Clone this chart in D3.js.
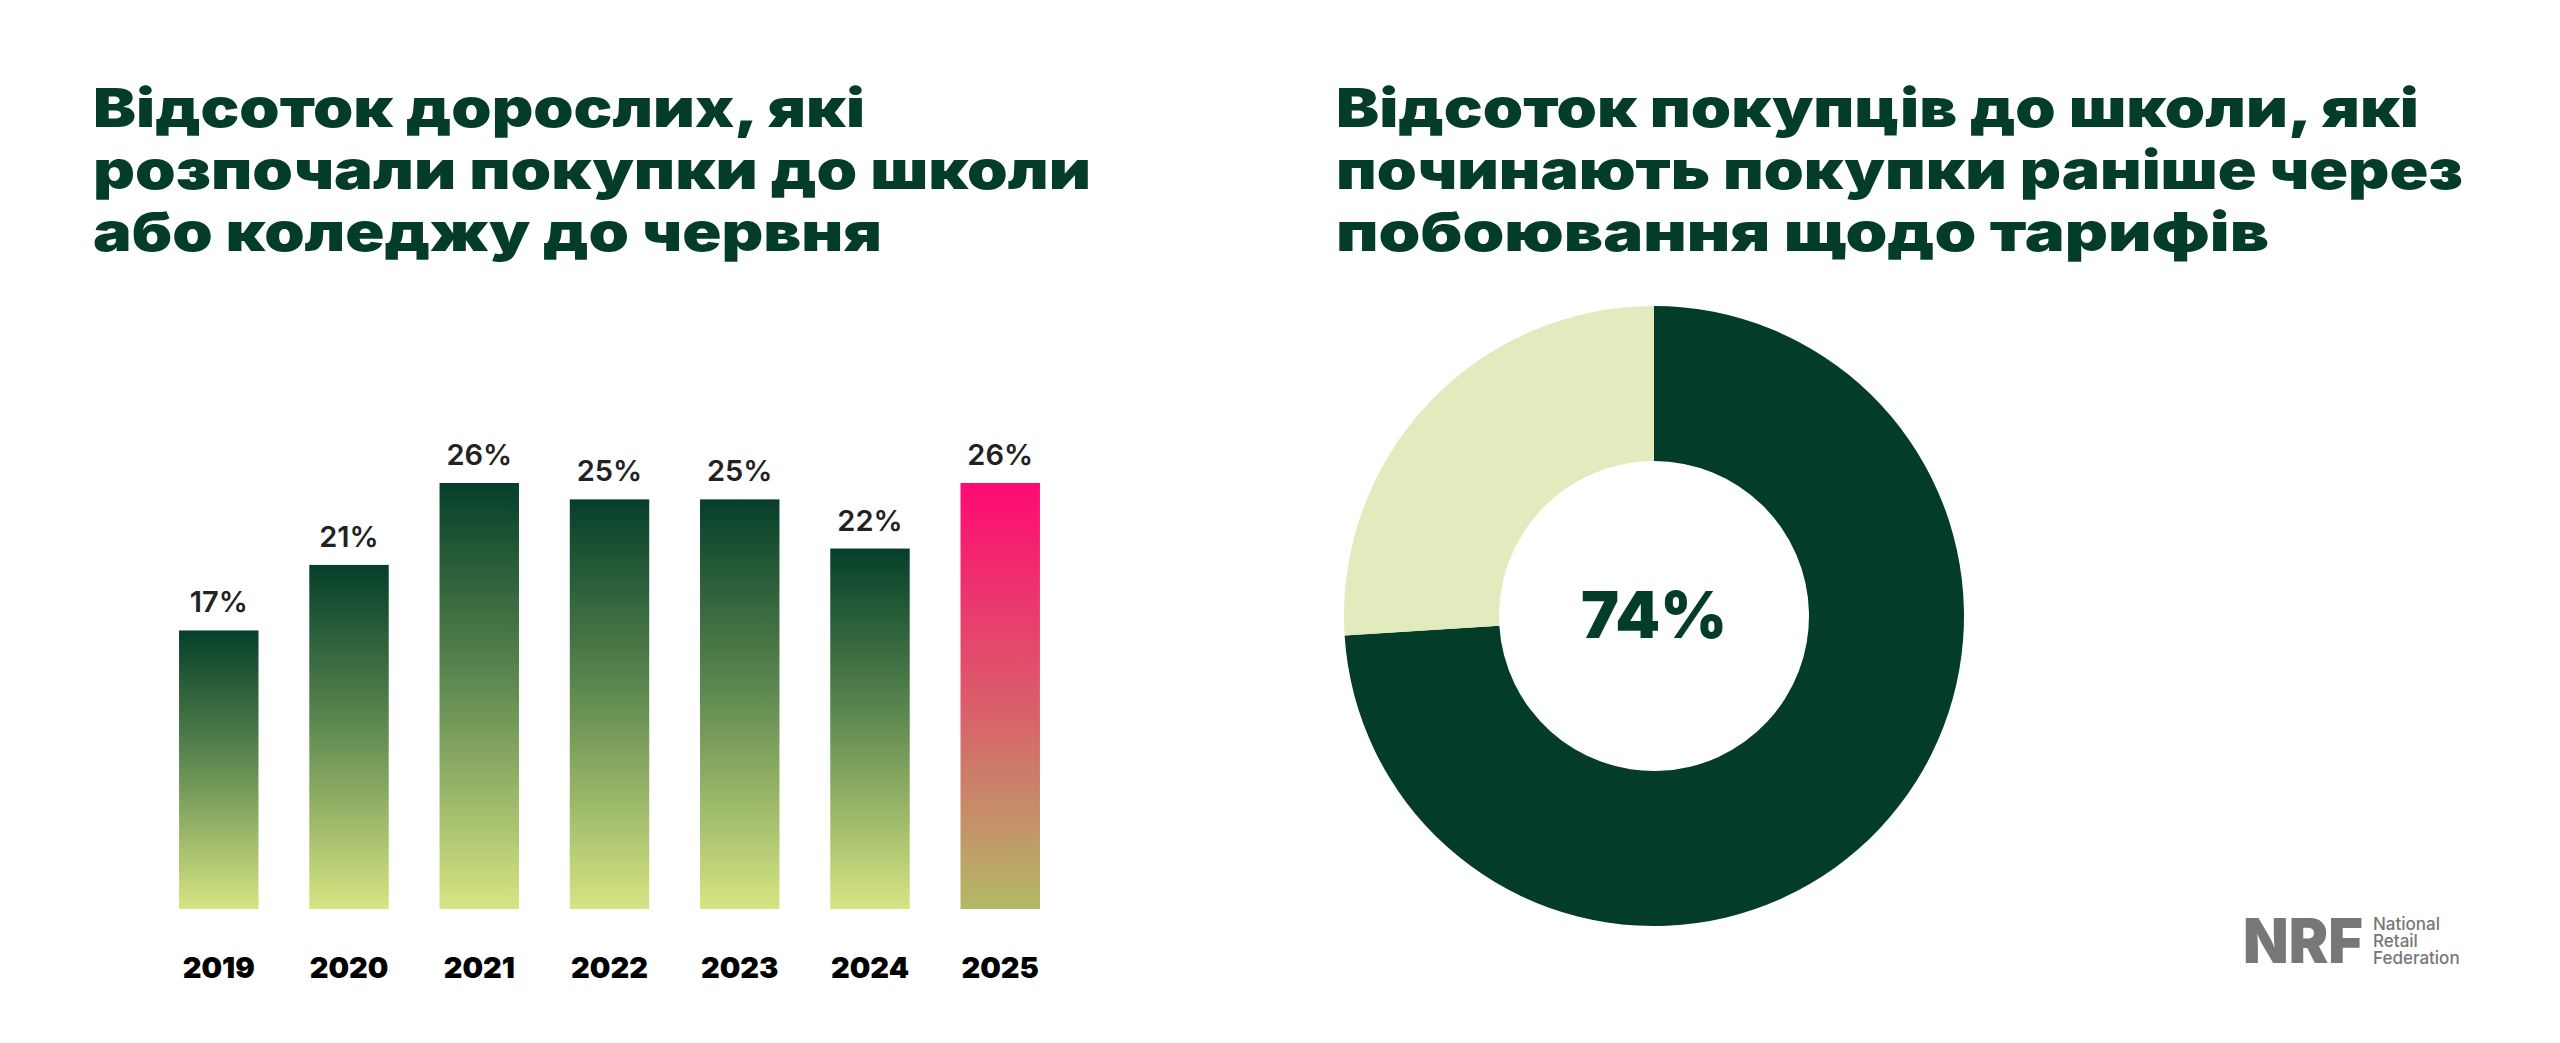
<!DOCTYPE html>
<html><head><meta charset="utf-8">
<script src="https://cdn.jsdelivr.net/npm/d3@7"></script>
<style>body{margin:0;background:#fff}svg{display:block}</style>
</head><body>
<div id="chart"></div>
<script>
const years = ['2019', '2020', '2021', '2022', '2023', '2024', '2025']
const shares = [17, 21, 26, 25, 25, 22, 26]
const donutValues = [74, 26]
const leftTitle = ['Відсоток дорослих, які', 'розпочали покупки до школи', 'або коледжу до червня']
const rightTitle = ['Відсоток покупців до школи, які', 'починають покупки раніше через', 'побоювання щодо тарифів']

const W = 2560, H = 1043
const dark = '#033d29'
const svg = d3.select('#chart').append('svg').attr('width', W).attr('height', H)
  .style('font-family', 'Inter, "Noto Sans", sans-serif')

const defs = svg.append('defs')
const gGreen = defs.append('linearGradient').attr('id', 'gGreen').attr('x1', 0).attr('x2', 0).attr('y1', 0).attr('y2', 1)
gGreen.append('stop').attr('offset', '0%').attr('stop-color', '#053f2a')
gGreen.append('stop').attr('offset', '45%').attr('stop-color', '#5a864e')
gGreen.append('stop').attr('offset', '100%').attr('stop-color', '#d7e583')
const gPink = defs.append('linearGradient').attr('id', 'gPink').attr('x1', 0).attr('x2', 0).attr('y1', 0).attr('y2', 1)
gPink.append('stop').attr('offset', '0%').attr('stop-color', '#ff0a72')
gPink.append('stop').attr('offset', '55%').attr('stop-color', '#d8636a')
gPink.append('stop').attr('offset', '100%').attr('stop-color', '#b3b966')

// titles
const titleWidths = [[772, 998, 789], [1083, 1127, 933]]
;[[leftTitle, 93], [rightTitle, 1336]].forEach(([lines, x], k) => {
  svg.append('g').selectAll('text').data(lines).join('text')
    .attr('x', x).attr('y', (d, i) => 127 + i * 62)
    .attr('fill', dark).attr('font-size', 54).attr('font-weight', 900)
    .attr('textLength', (d, i) => titleWidths[k][i]).attr('lengthAdjust', 'spacingAndGlyphs')
    .text(d => d)
})

// bars
const x = d3.scaleBand().domain(years).range([153, 1066]).paddingInner(0.39).paddingOuter(0.2)
const y = d3.scaleLinear().domain([0, 26]).range([909, 483])
const bars = svg.append('g')
bars.selectAll('rect').data(years).join('rect')
  .attr('x', d => x(d)).attr('width', x.bandwidth())
  .attr('y', (d, i) => y(shares[i])).attr('height', (d, i) => y(0) - y(shares[i]))
  .attr('fill', (d, i) => i === years.length - 1 ? 'url(#gPink)' : 'url(#gGreen)')
bars.selectAll('text.v').data(years).join('text').attr('class', 'v')
  .attr('x', d => x(d) + x.bandwidth() / 2).attr('y', (d, i) => y(shares[i]) - 18)
  .attr('text-anchor', 'middle').attr('font-size', 29).attr('font-weight', 600).attr('fill', '#222')
  .text((d, i) => shares[i] + '%')
const xAxis = svg.append('g').attr('transform', 'translate(0,909)')
  .call(d3.axisBottom(x).tickSize(0).tickPadding(48))
xAxis.select('.domain').remove()
xAxis.selectAll('text').attr('font-size', 29).attr('font-weight', 900).attr('fill', '#000')
  .attr('font-family', 'Inter, sans-serif')

// donut
const pie = d3.pie().sort(null)
const arc = d3.arc().innerRadius(155).outerRadius(310)
const donut = svg.append('g').attr('transform', 'translate(1654,616)')
donut.selectAll('path').data(pie(donutValues)).join('path')
  .attr('d', arc).attr('fill', (d, i) => i === 0 ? dark : '#e1ebbd')
donut.append('text').attr('text-anchor', 'middle').attr('dy', 22)
  .attr('font-size', 64).attr('font-weight', 900).attr('fill', dark).text(donutValues[0] + '%')

// logo
const logo = svg.append('g').attr('fill', '#777')
logo.append('text').attr('x', 2243).attr('y', 963).attr('font-size', 62).attr('font-weight', 900)
  .attr('textLength', 120).attr('lengthAdjust', 'spacingAndGlyphs').text('NRF')
logo.selectAll('text.s').data(['National', 'Retail', 'Federation']).join('text').attr('class', 's')
  .attr('x', 2373).attr('y', (d, i) => 930 + i * 17).attr('font-size', 17).attr('font-weight', 500).text(d => d)
</script>
</body></html>
